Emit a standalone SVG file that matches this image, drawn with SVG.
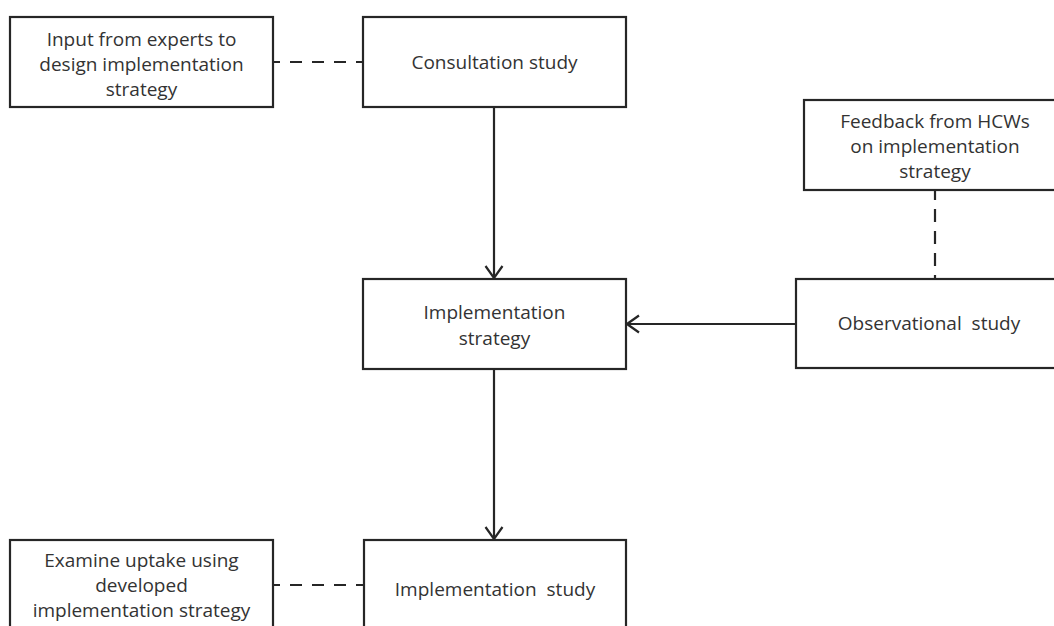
<svg xmlns="http://www.w3.org/2000/svg" width="1054" height="626" viewBox="0 0 1054 626">
<style>
.box{fill:#fff;stroke:#262626;stroke-width:2.2}
.t{font-family:"Open Sans","Noto Sans","Liberation Sans",sans-serif;font-size:19px;fill:#333;text-anchor:middle}
.ln{stroke:#262626;stroke-width:2.2;fill:none}
.dash{stroke:#262626;stroke-width:2.2;fill:none;stroke-dasharray:12 10}
</style>
<defs>
<marker id="ah" viewBox="0 0 14 20" refX="13" refY="10" markerWidth="14" markerHeight="20" markerUnits="userSpaceOnUse" orient="auto">
<path d="M1,1.5 L13,10 L1,18.5" fill="none" stroke="#262626" stroke-width="2.2"/>
</marker>
</defs>
<rect width="1054" height="626" fill="#fff"/>
<g id="connectors">
<line class="dash" x1="273" y1="62" x2="363" y2="62" stroke-dashoffset="5"/>
<line class="dash" x1="273" y1="585" x2="364" y2="585" stroke-dashoffset="5"/>
<line class="dash" x1="935" y1="187" x2="935" y2="279" style="stroke-dasharray:13 9"/>
<line class="ln" x1="494" y1="107" x2="494" y2="278" marker-end="url(#ah)"/>
<line class="ln" x1="494" y1="369" x2="494" y2="539" marker-end="url(#ah)"/>
<line class="ln" x1="796" y1="324" x2="627" y2="324" marker-end="url(#ah)"/>
</g>
<g id="input-experts">
<rect class="box" x="10" y="17" width="263" height="90"/>
<text class="t" x="141.5" y="46">Input from experts to</text>
<text class="t" x="141.5" y="71">design implementation</text>
<text class="t" x="141.5" y="96">strategy</text>
</g>
<g id="consultation">
<rect class="box" x="363" y="17" width="263" height="90"/>
<text class="t" x="494.5" y="69">Consultation study</text>
</g>
<g id="feedback">
<rect class="box" x="804" y="100" width="264" height="90"/>
<text class="t" x="935" y="128">Feedback from HCWs</text>
<text class="t" x="935" y="153">on implementation</text>
<text class="t" x="935" y="178">strategy</text>
</g>
<g id="impl-strategy">
<rect class="box" x="363" y="279" width="263" height="90"/>
<text class="t" x="494.5" y="319">Implementation</text>
<text class="t" x="494.5" y="345">strategy</text>
</g>
<g id="observational">
<rect class="box" x="796" y="279" width="266" height="89"/>
<text class="t" x="929" y="330" xml:space="preserve">Observational  study</text>
</g>
<g id="examine">
<rect class="box" x="10" y="540" width="263" height="92"/>
<text class="t" x="141.5" y="567">Examine uptake using</text>
<text class="t" x="141.5" y="592">developed</text>
<text class="t" x="141.5" y="617">implementation strategy</text>
</g>
<g id="impl-study">
<rect class="box" x="364" y="540" width="262" height="92"/>
<text class="t" x="495" y="596" xml:space="preserve">Implementation  study</text>
</g>
</svg>
